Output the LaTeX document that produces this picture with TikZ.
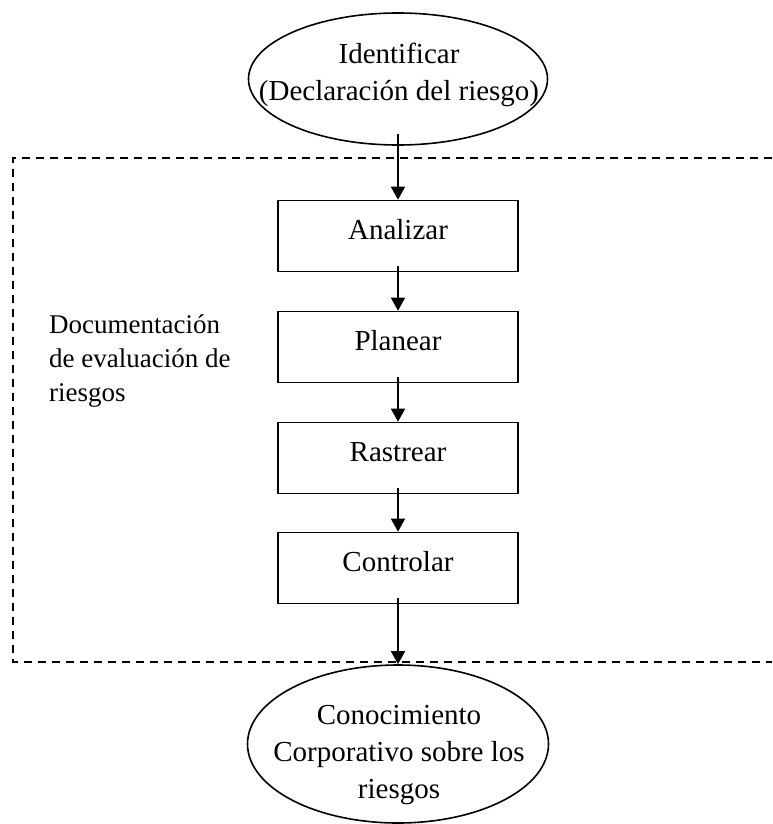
\documentclass[tikz,border=0pt]{standalone}
\usepackage{fontspec}
\setmainfont{Liberation Serif}
\usetikzlibrary{shapes.geometric,arrows.meta}
\begin{document}
\begin{tikzpicture}[x=1pt,y=-1pt,
  every node/.style={inner sep=0pt},
  stepbox/.style={draw,line width=1.6pt,minimum width=240pt,minimum height=71pt,
    font=\fontsize{29}{37}\selectfont,text height=20pt,text depth=13pt},
  oval/.style={draw,ellipse,line width=1.6pt},
  ovaltext/.style={align=center,anchor=north,font=\fontsize{29}{37}\selectfont},
  sidetext/.style={align=left,anchor=north west,font=\fontsize{27}{34}\selectfont},
  flow/.style={line width=1.6pt,-{Triangle[length=13pt,width=14pt]}},
  zone/.style={line width=1.4pt,dash pattern=on 8pt off 6pt}]
\useasboundingbox (0,0) rectangle (772,824);
% dashed documentation zone (open on the right)
\draw[zone] (772,158) -- (13,158) -- (13,662) -- (772,662);
% ellipses
\node[oval,minimum width=299pt,minimum height=132pt] (ident) at (398,79) {};
\node[ovaltext] (identtxt) at (399,43.2) {Identificar\\(Declaración del riesgo)};
\node[oval,minimum width=301pt,minimum height=158pt] (know) at (398,744) {};
\node[ovaltext] (knowtxt) at (399,705.2) {Conocimiento\\Corporativo sobre los\\riesgos};
% step boxes
\node[stepbox] (a) at (398,236) {Analizar};
\node[stepbox] (b) at (398,347) {Planear};
\node[stepbox] (c) at (398,458) {Rastrear};
\node[stepbox] (d) at (398,568) {Controlar};
% side label
\node[sidetext] (doc) at (49,314.5) {Documentación\\de evaluación de\\riesgos};
% connectors
\draw[flow] ([yshift=12pt]ident.south) -- (a.north);
\draw[flow] ([yshift=6pt]a.south) -- (b.north);
\draw[flow] ([yshift=6pt]b.south) -- (c.north);
\draw[flow] ([yshift=6pt]c.south) -- (d.north);
\draw[flow] ([yshift=6pt]d.south) -- (know.north);
\end{tikzpicture}
\end{document}
